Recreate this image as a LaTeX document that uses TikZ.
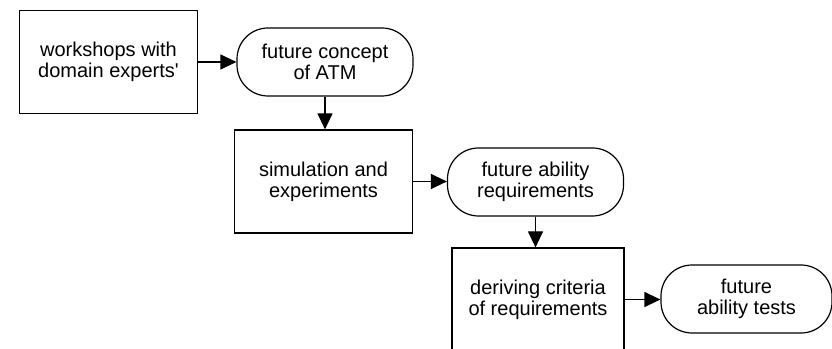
\documentclass[tikz,border=0pt]{standalone}
\usepackage{fontspec}
\setmainfont{Liberation Sans}
\usetikzlibrary{
    arrows.meta,
    positioning
}

\begin{document}
\begin{tikzpicture}[x=1pt,y=1pt,
    every node/.style={font=\fontsize{20}{21}\selectfont, align=center},
    procbox/.style={draw, line width=1.2pt, minimum width=178pt, minimum height=103pt},
    resultbox/.style={draw, line width=1.2pt, rounded corners=31pt, minimum width=176pt, minimum height=68pt},
    flow/.style={-{Triangle[length=16pt,width=15pt]}, line width=1.2pt}
]
    \useasboundingbox (0,0) rectangle (832,348);

    % steps and their results
    \node[procbox]   (workshops) at (108.5,286) {workshops with\\domain experts\textquotesingle};
    \node[resultbox] (concept)   at (325,286)   {future concept\\of ATM};
    \node[procbox]   (simul)     at (323.5,166.5) {simulation and\\experiments};
    \node[resultbox] (ability)   at (535.5,166) {future ability\\requirements};
    \node[procbox, minimum width=172pt] (criteria) at (538,48.5) {deriving criteria\\of requirements};
    \node[resultbox, minimum width=171pt] (tests) at (746.5,49) {future\\ability tests};

    % flow
    \draw[flow] (workshops.east) -- (concept.west);
    \draw[flow] (concept.south) -- (concept.south |- simul.north);
    \draw[flow] (simul.east) -- (simul.east -| ability.west);
    \draw[flow] (ability.south) -- (ability.south |- criteria.north);
    \draw[flow] (criteria.east) -- (criteria.east -| tests.west);
\end{tikzpicture}
\end{document}
